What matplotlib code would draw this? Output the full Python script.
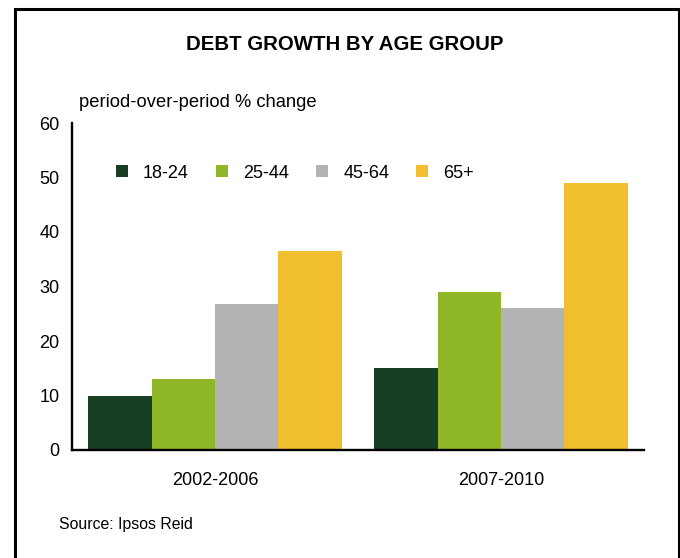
import matplotlib.pyplot as plt
import numpy as np
from matplotlib.patches import Rectangle

plt.rcParams['font.family'] = ['Liberation Sans', 'DejaVu Sans']

# Debt growth, period-over-period % change
periods = ['2002-2006', '2007-2010']
age_groups = ['18-24', '25-44', '45-64', '65+']
growth_18_24 = [10, 15]
growth_25_44 = [13, 29]
growth_45_64 = [26.7, 26]
growth_65_plus = [36.5, 49]

colors = ['#183e23', '#8eb626', '#b3b3b3', '#f2bf31']

W, H = 680, 558
fig = plt.figure(figsize=(W / 100, H / 100), dpi=100)
ax = fig.add_axes([72 / W, 1 - 450 / H, (644 - 72) / W, (450 - 123) / H])

x = np.arange(len(periods))
width = 0.222
series = [growth_18_24, growth_25_44, growth_45_64, growth_65_plus]
for i, (vals, label, c) in enumerate(zip(series, age_groups, colors)):
    ax.bar(x + (i - 1.5) * width, vals, width, color=c, label=label, linewidth=0)

ax.set_xlim(-0.5, 1.5)
ax.set_ylim(0, 60)
ax.set_yticks(range(0, 61, 10))
ax.set_xticks(x)
ax.set_xticklabels(periods)
ax.tick_params(axis='both', length=0, labelsize=13)
ax.tick_params(axis='y', pad=9)
ax.tick_params(axis='x', pad=16)
for side in ['top', 'right']:
    ax.spines[side].set_visible(False)
for side in ['left', 'bottom']:
    ax.spines[side].set_linewidth(1.7)

leg = ax.legend(ncol=4, loc='center left', bbox_to_anchor=((116 - 72) / (644 - 72), (450 - 173) / (450 - 123)),
                frameon=False, fontsize=13, handlelength=0.65, handleheight=0.65,
                handletextpad=0.85, columnspacing=1.5, borderpad=0, borderaxespad=0)

fig.text(345 / W, 1 - 45 / H, 'DEBT GROWTH BY AGE GROUP', ha='center', va='center',
         fontsize=14.7, fontweight='bold')
fig.text(79 / W, 1 - 102 / H, 'period-over-period % change', ha='left', va='center', fontsize=13.2)
fig.text(59 / W, 1 - 525 / H, 'Source: Ipsos Reid', ha='left', va='center', fontsize=11.4)

# outer frame, open at the bottom edge
fig.add_artist(Rectangle((14.5 / W, -0.05), (678.5 - 14.5) / W, 1 - 8.5 / H + 0.05,
                         transform=fig.transFigure, fill=False, edgecolor='black',
                         linewidth=2.2, clip_on=False))

fig.savefig('out.png', dpi=100)
